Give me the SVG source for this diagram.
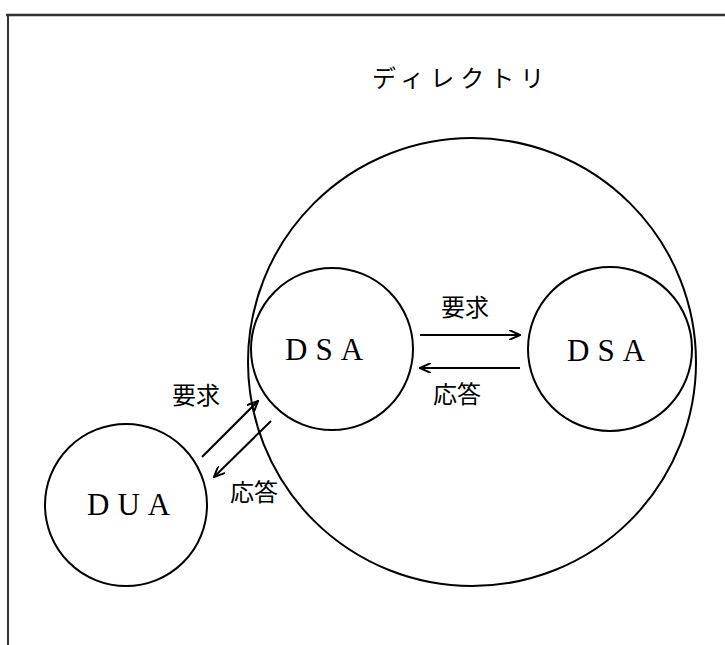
<svg xmlns="http://www.w3.org/2000/svg" width="725" height="645" viewBox="0 0 725 645">
<defs>
<style>
.c{fill:none;stroke:#000;stroke-width:2}
.lbl{font-family:"Liberation Serif","Noto Sans CJK JP",serif;font-size:31px;fill:#000;letter-spacing:8px}
.jp{font-family:"Noto Sans CJK JP",sans-serif;font-size:24px;fill:#000}
.ar{stroke:#000;stroke-width:2;fill:none;marker-end:url(#ah)}
</style>
<marker id="ah" viewBox="0 0 12 10" refX="11" refY="5" markerWidth="12" markerHeight="10" markerUnits="userSpaceOnUse" orient="auto">
<path d="M0,0 L11,5 L0,10" fill="none" stroke="#000" stroke-width="2"/>
</marker>
</defs>
<rect width="725" height="645" fill="#fff"/>
<g id="frame">
<line x1="6" y1="15" x2="725" y2="15" stroke="#333" stroke-width="2.5"/>
<line x1="8" y1="14" x2="8" y2="645" stroke="#333" stroke-width="2"/>
</g>
<g id="directory">
<circle class="c" cx="472" cy="362" r="224"/>
<text class="jp" x="372" y="87" font-size="22" letter-spacing="6">ディレクトリ</text>
</g>
<g id="dsa1">
<circle class="c" cx="332" cy="349" r="81"/>
<text class="lbl" x="285" y="360">DSA</text>
</g>
<g id="dsa2">
<circle class="c" cx="610" cy="349" r="82"/>
<text class="lbl" x="567" y="361">DSA</text>
</g>
<g id="dua">
<circle class="c" cx="126" cy="505" r="81"/>
<text class="lbl" x="87" y="515" letter-spacing="7">DUA</text>
</g>
<g id="connectors">
<line class="ar" x1="420" y1="335" x2="520" y2="335"/>
<line class="ar" x1="520" y1="368" x2="420" y2="368"/>
<line class="ar" x1="202" y1="457" x2="258" y2="401"/>
<line class="ar" x1="271" y1="421" x2="214" y2="477"/>
</g>
<g id="labels">
<text class="jp" x="441" y="316">要求</text>
<text class="jp" x="433" y="403">応答</text>
<text class="jp" x="172" y="404">要求</text>
<text class="jp" x="230" y="501">応答</text>
</g>
</svg>
